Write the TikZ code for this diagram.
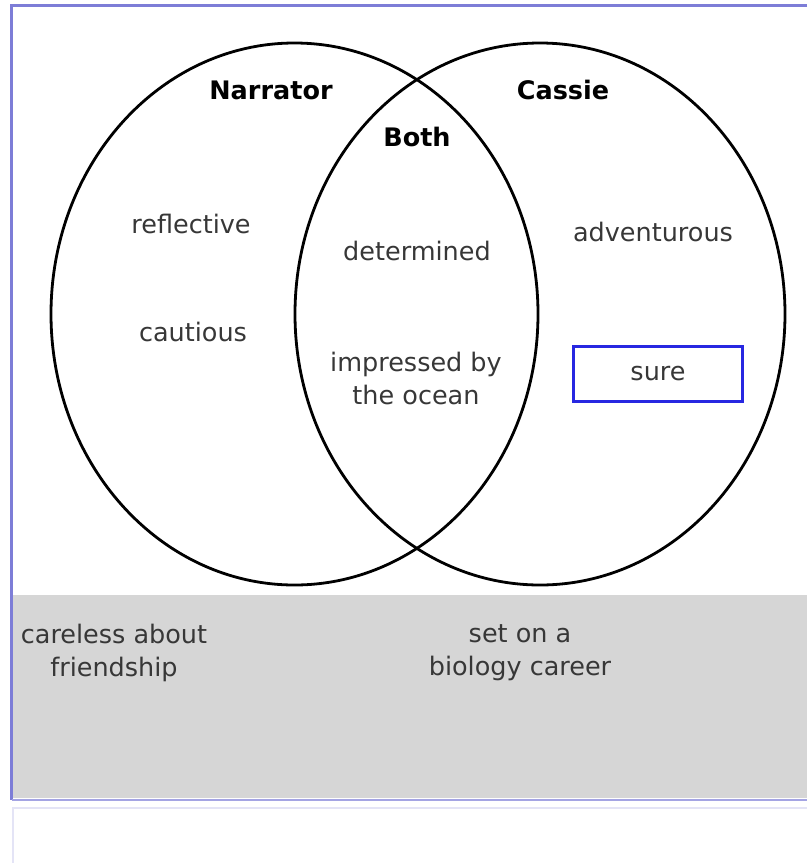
\documentclass[tikz,border=0pt]{standalone}
\usepackage{fontspec}
\setmainfont{DejaVu Sans}
\usetikzlibrary{positioning}
\definecolor{frameblue}{RGB}{125,125,215}
\definecolor{paleblue}{RGB}{228,228,246}
\definecolor{boxblue}{RGB}{40,40,225}
\definecolor{txtgray}{RGB}{55,55,55}
\definecolor{bandgray}{RGB}{214,214,214}

\begin{document}
\begin{tikzpicture}
[x=1pt, y=-1pt,
 ttl/.style={font=\fontsize{25.5}{30}\selectfont\bfseries, text=black},
 trait/.style={font=\fontsize{25.5}{33}\selectfont, text=txtgray, align=center},
 ring/.style={draw=black, line width=2.8pt},
 surebox/.style={draw=boxblue, line width=2.4pt, inner sep=0pt,
   minimum width=169pt, minimum height=55pt, font=\fontsize{25.5}{30}\selectfont, text=txtgray}]

\useasboundingbox (0,0) rectangle (807,863);

% frame and grey band
\fill [bandgray] (12,595) rectangle (807,798);
\draw [frameblue, line width=2.2pt] (807,5.5) -- (11.5,5.5) -- (11.5,800);
\draw [frameblue!70, line width=2.2pt] (11.5,800) -- (807,800);
\draw [paleblue, line width=1.5pt] (13,863) -- (13,808) -- (807,808);

% the two circles
\coordinate (nar) at (294.5,314);
\coordinate (cas) at (540,314);
\draw [ring] (nar) ellipse [x radius=243.5, y radius=271];
\draw [ring] (cas) ellipse [x radius=245, y radius=271];

% headings
\node[ttl] (narT) at (271,90) {Narrator};
\node[ttl] (casT) at (563,90) {Cassie};
\node[ttl] (both) at (417,137) {Both};

% traits
\node[trait] (refl) at (191,224) {reflective};
\node[trait] (caut) at (193,332) {cautious};
\node[trait] (det) at (417,251) {determined};
\node[trait] (ocean) at (416,378) {impressed by\\the ocean};
\node[trait] (adv) at (653,232) {adventurous};
\node[surebox] (sure) at (658,374) {sure};

% left over
\node[trait] (care) at (114,653) {careless about\\friendship};
\node[trait] (bio) at (520,653) {set on a\\biology career};

\end{tikzpicture}
\end{document}
